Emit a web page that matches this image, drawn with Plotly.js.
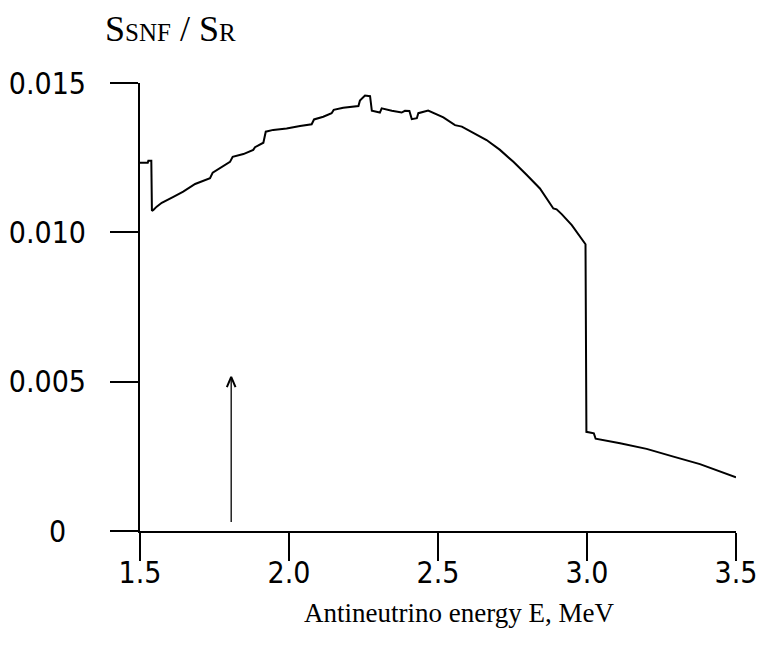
<!DOCTYPE html>
<html>
<head>
<meta charset="utf-8">
<script src="https://cdn.plot.ly/plotly-3.0.1.min.js"></script>
<style>html,body{margin:0;padding:0;background:#fff;}#chart{width:763px;height:665px;}</style>
</head>
<body>
<div id="chart"></div>
<script>
// Antineutrino energy (MeV)
const energy = [1.500, 1.526, 1.528, 1.538, 1.540, 1.545, 1.556, 1.573, 1.612, 1.645,
  1.685, 1.735, 1.744, 1.780, 1.802, 1.811, 1.847, 1.880, 1.886, 1.914,
  1.922, 1.947, 1.992, 2.037, 2.076, 2.084, 2.115, 2.143, 2.150, 2.182,
  2.233, 2.238, 2.255, 2.272, 2.278, 2.305, 2.311, 2.345, 2.378, 2.389,
  2.404, 2.412, 2.429, 2.434, 2.467, 2.518, 2.557, 2.580, 2.618, 2.663,
  2.708, 2.753, 2.798, 2.842, 2.887, 2.898, 2.915, 2.949, 2.995, 2.998,
  3.023, 3.029, 3.111, 3.200, 3.290, 3.379, 3.500];
// Ratio S_SNF / S_R
const ratio = [0.01233, 0.01233, 0.01240, 0.01240, 0.01072, 0.01075, 0.01086, 0.01099, 0.01119, 0.01136,
  0.01162, 0.01181, 0.01200, 0.01222, 0.01236, 0.01253, 0.01262, 0.01276, 0.01285, 0.01300,
  0.01337, 0.01343, 0.01348, 0.01356, 0.01362, 0.01378, 0.01387, 0.01399, 0.01410, 0.01417,
  0.01423, 0.01441, 0.01458, 0.01456, 0.01407, 0.01401, 0.01415, 0.01407, 0.01401, 0.01407,
  0.01406, 0.01379, 0.01382, 0.01399, 0.01408, 0.01385, 0.01359, 0.01354, 0.01334, 0.01309,
  0.01276, 0.01236, 0.01192, 0.01147, 0.01080, 0.01077, 0.01061, 0.01024, 0.00960, 0.00332,
  0.00327, 0.00309, 0.00294, 0.00275, 0.00249, 0.00224, 0.00180];

// Threshold arrow (IBD threshold)
const arrowEnergy = 1.806;
const arrowFrom = 0.0003;
const arrowTo = 0.00516;

const xTickVals = [1.5, 2.0, 2.5, 3.0, 3.5];
const xTickText = ["1.5", "2.0", "2.5", "3.0", "3.5"];
const yTickVals = [0, 0.005, 0.010, 0.015];
const yTickText = ["0\u2007\u200A", "0.005", "0.010", "0.015"];

const xTitle = "Antineutrino energy E, MeV";
const yTitle = "S<span style=\"font-size:25px\">SNF</span> / S<span style=\"font-size:25px\">R</span>";

// caret head size (in axis units)
const headDx = 0.0145, headDy = 0.00034;

const tickFont = {family: "DejaVu Sans Condensed, DejaVu Sans, sans-serif", size: 30, color: "#000"};
const serif = "Liberation Serif, Times New Roman, serif";

const traces = [
  {x: energy, y: ratio, type: "scatter", mode: "lines",
   line: {color: "#000", width: 2}, hoverinfo: "skip"},
  {x: [arrowEnergy, arrowEnergy], y: [arrowFrom, arrowTo - 0.00005], type: "scatter", mode: "lines",
   line: {color: "#000", width: 1.3}, hoverinfo: "skip"},
  {x: [arrowEnergy - headDx, arrowEnergy, arrowEnergy + headDx],
   y: [arrowTo - headDy, arrowTo, arrowTo - headDy], type: "scatter", mode: "lines",
   line: {color: "#000", width: 2}, hoverinfo: "skip"}
];

const axisBase = {
  showgrid: false, zeroline: false, showline: true, linewidth: 2, linecolor: "#000",
  ticks: "outside", ticklen: 28, tickwidth: 2, tickcolor: "#000", tickfont: tickFont,
  tickmode: "array", fixedrange: true
};

const layout = {
  width: 763, height: 665,
  margin: {l: 140, r: 27, t: 83, b: 134},
  paper_bgcolor: "#fff", plot_bgcolor: "#fff",
  showlegend: false,
  xaxis: Object.assign({}, axisBase, {
    range: [1.5, 3.5], tickvals: xTickVals, ticktext: xTickText, ticklabelstandoff: -14
  }),
  yaxis: Object.assign({}, axisBase, {
    range: [0, 0.015], tickvals: yTickVals, ticktext: yTickText, ticklabelstandoff: 18
  }),
  annotations: [{
    text: yTitle, xref: "paper", yref: "paper", x: -0.062, y: 1.0, yshift: 54,
    xanchor: "left", yanchor: "middle", showarrow: false,
    font: {family: serif, size: 36, color: "#000"}
  }, {
    text: xTitle, xref: "paper", yref: "paper", x: 0.5, y: 0, xshift: 21, yshift: -82,
    xanchor: "center", yanchor: "middle", showarrow: false,
    font: {family: serif, size: 27, color: "#000"}
  }]
};

Plotly.newPlot("chart", traces, layout, {displayModeBar: false, staticPlot: true});
</script>
</body>
</html>
